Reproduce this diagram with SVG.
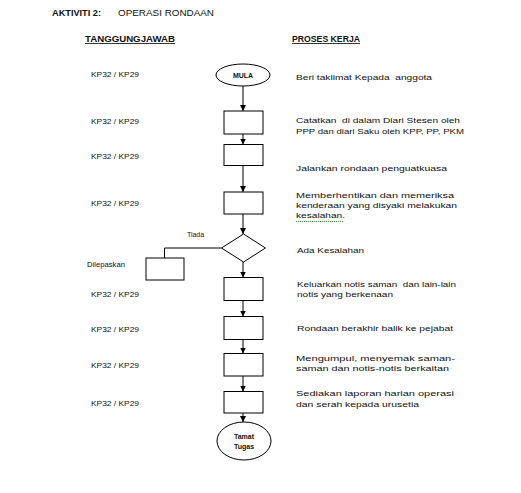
<svg xmlns="http://www.w3.org/2000/svg" width="521" height="493" viewBox="0 0 521 493">
<defs>
<marker id="arr" markerUnits="userSpaceOnUse" markerWidth="7" markerHeight="7" refX="6" refY="3" orient="auto">
<path d="M0,0 L6,3 L0,6 z" fill="#000"/>
</marker>
<style>
text{font-family:"Liberation Sans",Arial,sans-serif;font-size:8px;fill:#111}
.h{font-size:8.5px;font-weight:bold}
.hn{font-size:8.5px}
.u{text-decoration:underline}
.s{fill:#fff;stroke:#000;stroke-width:1}
.c{fill:none;stroke:#000;stroke-width:1}
.a{fill:none;stroke:#000;stroke-width:1;marker-end:url(#arr)}
.m{font-size:7px;font-weight:bold;text-anchor:middle}
</style>
</defs>
<rect width="521" height="493" fill="#fff"/>

<g id="header">
<text class="h" x="52" y="16" textLength="49" lengthAdjust="spacingAndGlyphs">AKTIVITI 2:</text>
<text class="hn" x="118" y="16" textLength="96" lengthAdjust="spacingAndGlyphs">OPERASI RONDAAN</text>
<text class="h u" x="85" y="42" textLength="90" lengthAdjust="spacingAndGlyphs">TANGGUNGJAWAB</text>
<text class="h u" x="292" y="42" textLength="68" lengthAdjust="spacingAndGlyphs">PROSES KERJA</text>
</g>

<g id="connectors">
<line class="a" x1="243" y1="86" x2="243" y2="111"/>
<line class="a" x1="243" y1="134" x2="243" y2="144.5"/>
<line class="a" x1="243" y1="165.5" x2="243" y2="192"/>
<line class="a" x1="243" y1="214" x2="243" y2="234"/>
<line class="a" x1="243" y1="262" x2="243" y2="277.5"/>
<line class="a" x1="243" y1="300.5" x2="243" y2="316.5"/>
<line class="a" x1="243" y1="339.5" x2="243" y2="353.5"/>
<line class="a" x1="243" y1="376" x2="243" y2="391.5"/>
<line class="a" x1="243" y1="413" x2="243" y2="422"/>
<polyline class="c" points="221.5,248 164.5,248 164.5,258"/>
<text x="187" y="237" textLength="17" lengthAdjust="spacingAndGlyphs">Tiada</text>
</g>

<g id="mula">
<ellipse class="s" cx="243" cy="75" rx="27" ry="11"/>
<text class="m" x="243" y="78">MULA</text>
<text x="91" y="77" textLength="48" lengthAdjust="spacingAndGlyphs">KP32 / KP29</text>
<text x="296" y="80" textLength="136" lengthAdjust="spacingAndGlyphs" xml:space="preserve">Beri taklimat Kepada  anggota</text>
</g>

<g id="step1">
<rect class="s" x="224" y="111" width="39" height="23"/>
<text x="91" y="124" textLength="48" lengthAdjust="spacingAndGlyphs">KP32 / KP29</text>
<text x="296" y="123" textLength="164" lengthAdjust="spacingAndGlyphs" xml:space="preserve">Catatkan  di dalam Diari Stesen oleh</text>
<text x="296" y="134" textLength="168" lengthAdjust="spacingAndGlyphs">PPP dan diari Saku oleh KPP, PP, PKM</text>
</g>

<g id="step2">
<rect class="s" x="224" y="144.5" width="39" height="21"/>
<text x="91" y="158.5" textLength="48" lengthAdjust="spacingAndGlyphs">KP32 / KP29</text>
<text x="296" y="171" textLength="151" lengthAdjust="spacingAndGlyphs">Jalankan rondaan penguatkuasa</text>
</g>

<g id="step3">
<rect class="s" x="224" y="192" width="39" height="22"/>
<text x="91" y="206" textLength="48" lengthAdjust="spacingAndGlyphs">KP32 / KP29</text>
<text x="296" y="198" textLength="158" lengthAdjust="spacingAndGlyphs">Memberhentikan dan memeriksa</text>
<text x="296" y="207.5" textLength="161" lengthAdjust="spacingAndGlyphs">kenderaan yang disyaki melakukan</text>
<text x="296" y="218" textLength="49" lengthAdjust="spacingAndGlyphs">kesalahan.</text>
<line x1="296" y1="221.5" x2="344" y2="221.5" stroke="#3a9a3a" stroke-width="1" stroke-dasharray="1,1"/>
</g>

<g id="decision">
<polygon class="s" points="243.5,234 265.5,248 243.5,262 221.5,248"/>
<text x="297" y="253" textLength="67" lengthAdjust="spacingAndGlyphs">Ada Kesalahan</text>
</g>

<g id="dilepaskan">
<rect class="s" x="146" y="258" width="38" height="22"/>
<text x="87" y="266.5" textLength="38" lengthAdjust="spacingAndGlyphs">Dilepaskan</text>
</g>

<g id="step4">
<rect class="s" x="224" y="277.5" width="39" height="23"/>
<text x="91" y="297" textLength="48" lengthAdjust="spacingAndGlyphs">KP32 / KP29</text>
<text x="297" y="287" textLength="159" lengthAdjust="spacingAndGlyphs" xml:space="preserve">Keluarkan notis saman  dan lain-lain</text>
<text x="297" y="297" textLength="96" lengthAdjust="spacingAndGlyphs">notis yang berkenaan</text>
</g>

<g id="step5">
<rect class="s" x="224" y="316.5" width="39" height="23"/>
<text x="91" y="331.5" textLength="48" lengthAdjust="spacingAndGlyphs">KP32 / KP29</text>
<text x="297" y="331" textLength="156" lengthAdjust="spacingAndGlyphs">Rondaan berakhir balik ke pejabat</text>
</g>

<g id="step6">
<rect class="s" x="224" y="353.5" width="39" height="22.5"/>
<text x="91" y="368" textLength="48" lengthAdjust="spacingAndGlyphs">KP32 / KP29</text>
<text x="296" y="361" textLength="159" lengthAdjust="spacingAndGlyphs">Mengumpul, menyemak saman-</text>
<text x="296" y="371" textLength="153" lengthAdjust="spacingAndGlyphs">saman dan notis-notis berkaitan</text>
</g>

<g id="step7">
<rect class="s" x="224" y="391.5" width="39" height="21.5"/>
<text x="91" y="406" textLength="48" lengthAdjust="spacingAndGlyphs">KP32 / KP29</text>
<text x="296" y="396" textLength="158" lengthAdjust="spacingAndGlyphs">Sediakan laporan harian operasi</text>
<text x="296" y="407" textLength="123" lengthAdjust="spacingAndGlyphs">dan serah kepada urusetia</text>
</g>

<g id="tamat">
<ellipse class="s" cx="244" cy="441" rx="27" ry="19"/>
<text class="m" x="244" y="439">Tamat</text>
<text class="m" x="244" y="449">Tugas</text>
</g>
</svg>
